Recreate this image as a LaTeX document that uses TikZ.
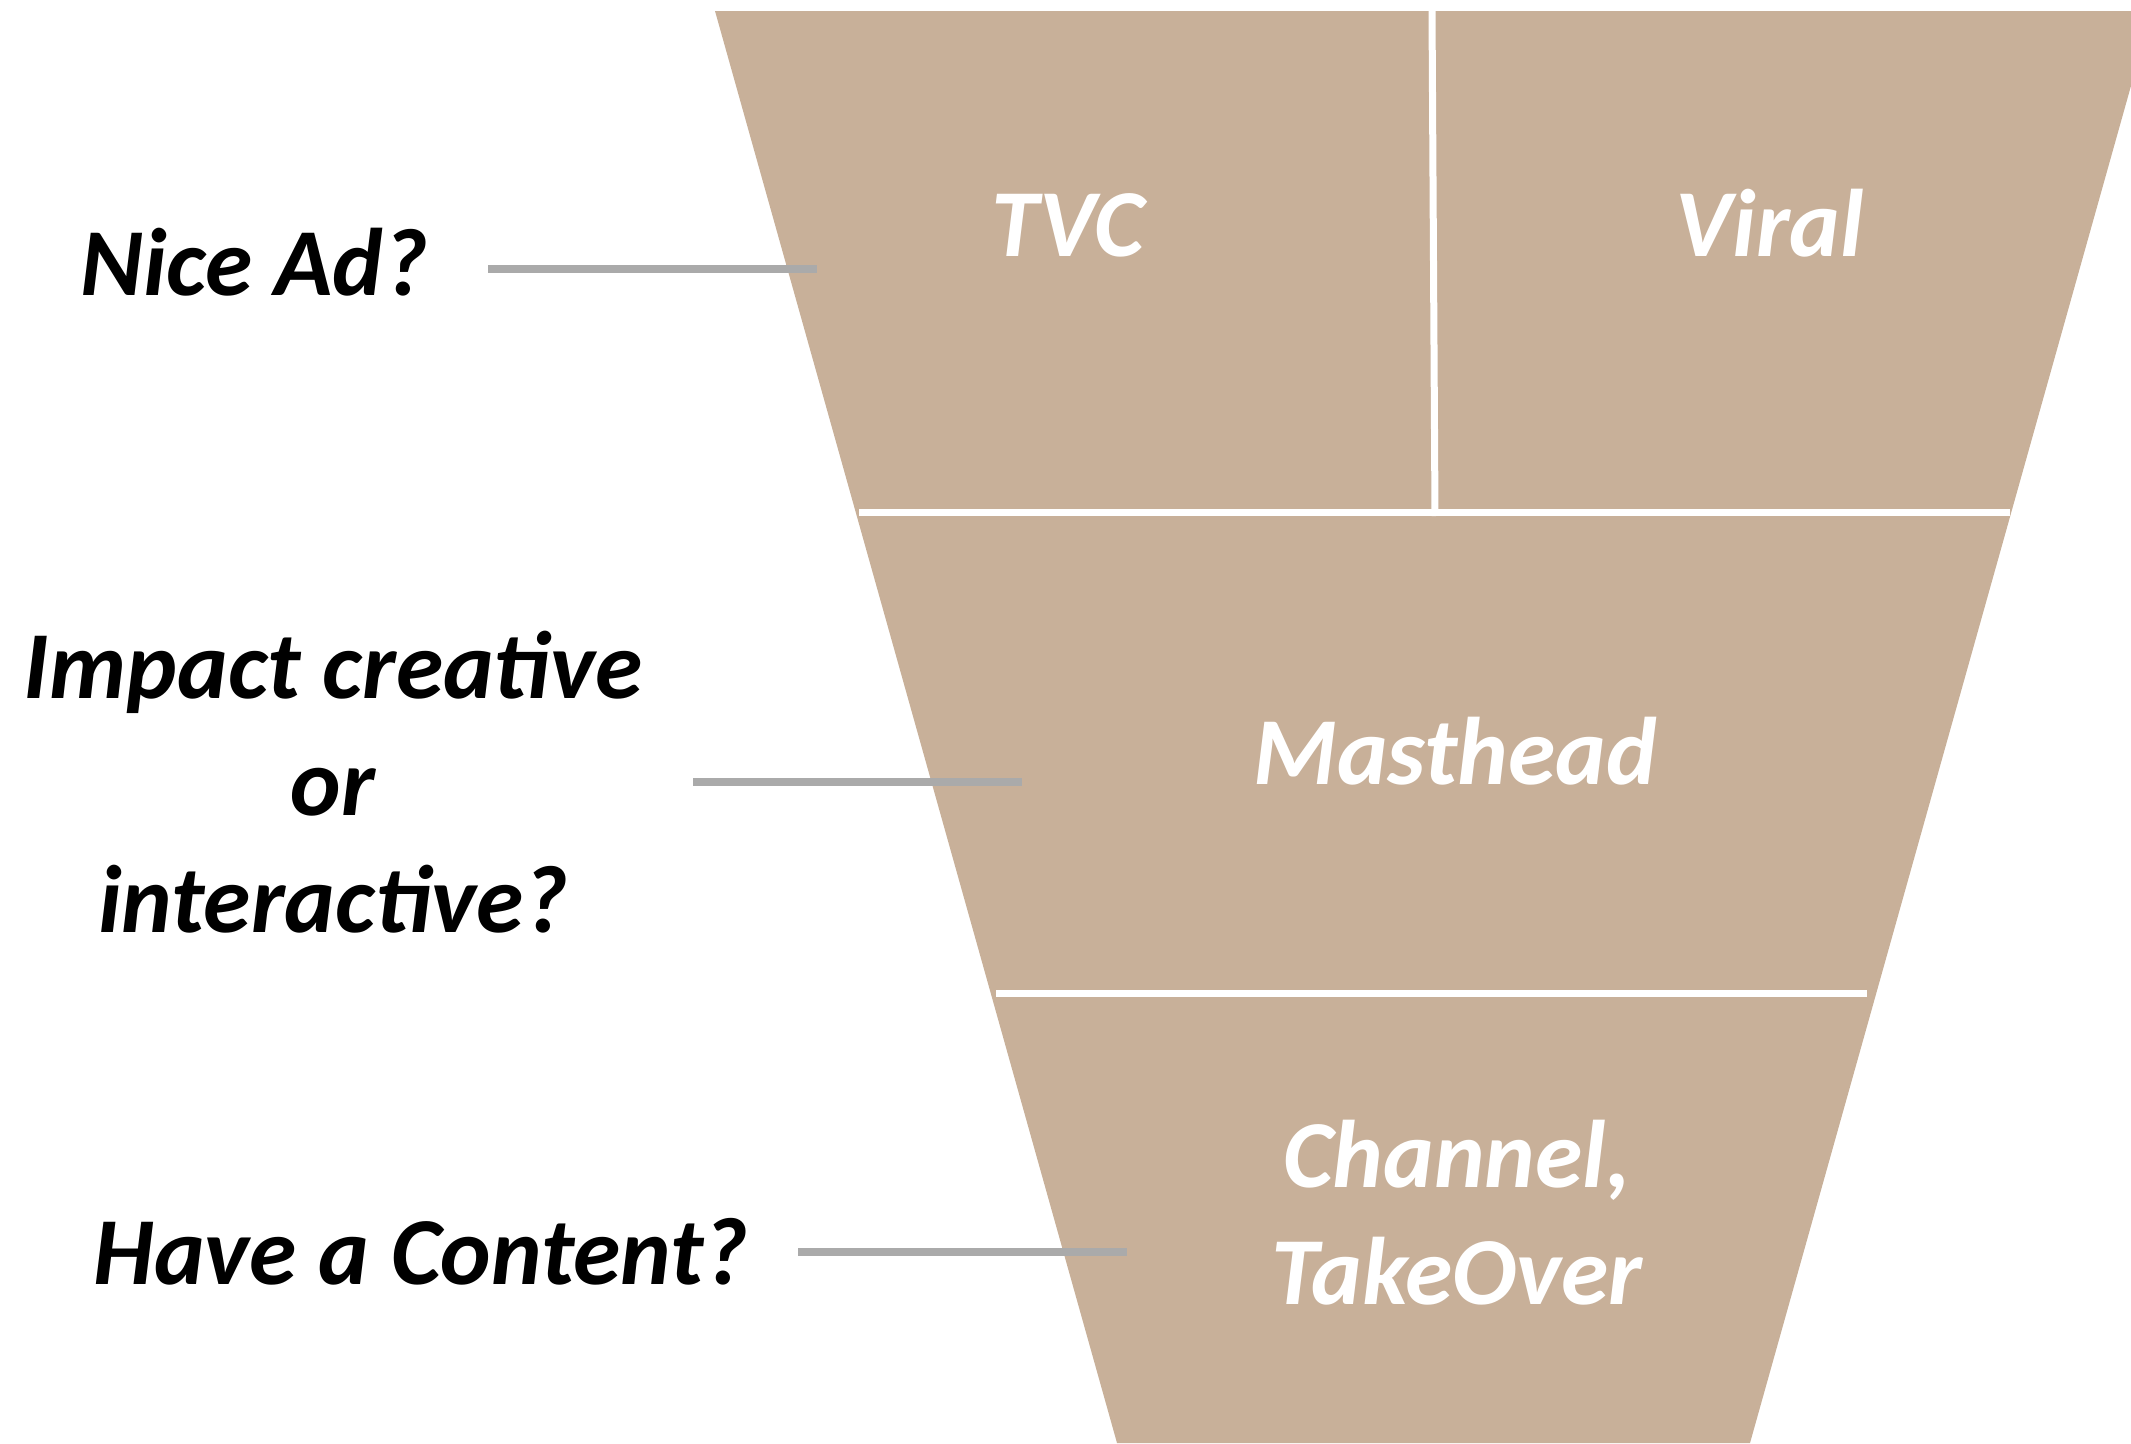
\documentclass[tikz,border=0pt]{standalone}
\usepackage{fontspec}
\setmainfont{Carlito}
\definecolor{funnelfill}{RGB}{200,176,153}
\definecolor{conngrey}{RGB}{170,170,170}
\begin{document}
\begin{tikzpicture}[x=1pt,y=-1pt,
  lbl/.style={font=\fontsize{96}{117}\selectfont\bfseries\itshape, text=black, inner sep=0pt, align=center},
  seglbl/.style={lbl, text=white},
  connector/.style={draw=conngrey, line width=8pt},
  divider/.style={draw=white, line width=7pt}]
\useasboundingbox (0,0) rectangle (2131,1443);
\clip (0,0) rectangle (2131,1443);
% funnel
\coordinate (tl) at (715,11);
\coordinate (tr) at (2152,11);
\coordinate (br) at (1750,1443);
\coordinate (bl) at (1117,1443);
\fill[funnelfill] (tl) -- (tr) -- (br) -- (bl) -- cycle;
% dividers
\coordinate (d1l) at (859,512);
\coordinate (d1r) at (2010,512);
\coordinate (d2l) at (996,993);
\coordinate (d2r) at (1867,993);
\coordinate (vt) at (1432,11);
\coordinate (vb) at (1435,516);
\draw[divider] (d1l) -- (d1r);
\draw[divider] (d2l) -- (d2r);
\draw[divider] (vt) -- (vb);
% segment labels (anchor base = baseline of the last line)
\node[seglbl, anchor=base] (tvc) at (1068,256) {TVC};
\node[seglbl, anchor=base] (viral) at (1770,256) {Viral};
\node[seglbl, anchor=base] (mast) at (1455,784) {Masthead};
\node[seglbl, anchor=base] (chan) at (1457,1304) {Channel,\\TakeOver};
% questions
\node[lbl, anchor=base] (q1) at (254,295) {Nice Ad?};
\node[lbl, anchor=base] (q2) at (333,932) {Impact creative\\or\\interactive?};
\node[lbl, anchor=base] (q3) at (421,1284) {Have a Content?};
% connectors
\coordinate (c1a) at (488,269);
\coordinate (c1b) at (817,269);
\coordinate (c2a) at (693,782);
\coordinate (c2b) at (1022,782);
\coordinate (c3a) at (798,1252);
\coordinate (c3b) at (1127,1252);
\draw[connector] (c1a) -- (c1b);
\draw[connector] (c2a) -- (c2b);
\draw[connector] (c3a) -- (c3b);
\end{tikzpicture}
\end{document}
